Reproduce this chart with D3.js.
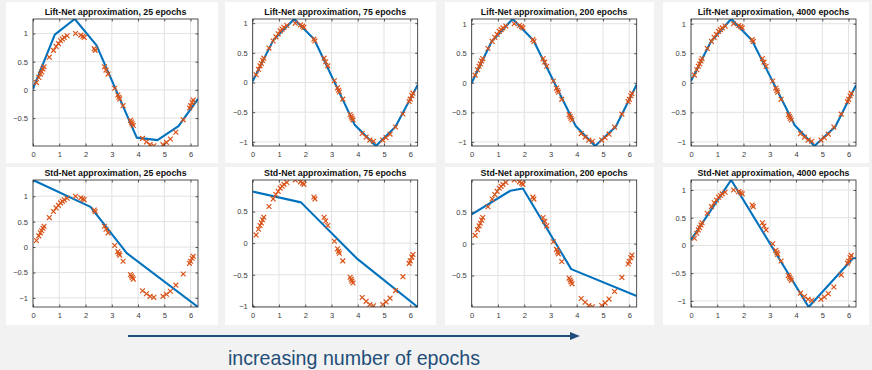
<!DOCTYPE html>
<html>
<head>
<meta charset="utf-8">
<script src="https://cdn.jsdelivr.net/npm/d3@7"></script>
<style>
  body { margin: 0; background: #f2f2f2; }
  svg { display: block; }
</style>
</head>
<body>
<div id="chart"></div>
<script>
// training samples (same in every panel)
const sampleX = [0.13, 0.22, 0.28, 0.33, 0.38, 0.42, 0.62, 0.78, 0.88, 0.97, 1.05, 1.12, 1.19, 1.30,
  1.62, 1.82, 1.90, 1.95, 2.33, 2.37, 2.72, 2.78, 2.86, 3.11, 3.23, 3.27, 3.30, 3.43, 3.71, 3.75,
  3.78, 3.82, 4.17, 4.32, 4.46, 4.60, 4.95, 5.08, 5.23, 5.44, 5.72, 5.96, 6.00, 6.06, 6.10];
const sampleY = [0.13, 0.22, 0.28, 0.32, 0.37, 0.41, 0.58, 0.70, 0.77, 0.82, 0.87, 0.90, 0.93, 0.96,
  1.00, 0.97, 0.95, 0.93, 0.73, 0.70, 0.41, 0.35, 0.28, 0.03, -0.09, -0.13, -0.16, -0.28, -0.54, -0.57,
  -0.60, -0.63, -0.86, -0.92, -0.97, -0.99, -0.97, -0.93, -0.87, -0.75, -0.53, -0.32, -0.28, -0.22, -0.18];

const epochs = [25, 75, 200, 4000];

// network outputs, [x, y] breakpoints
const liftNet25 = [[0, 0.02], [0.83, 0.98], [1.59, 1.256], [2.42, 0.79], [3.95, -0.845], [4.74, -0.89], [5.54, -0.64], [6.283, -0.16]];
const liftNet75 = [[0, 0.02], [0.78, 0.71], [1.58, 1.07], [2.34, 0.73], [3.88, -0.71], [4.69, -1.07], [5.43, -0.75], [6.283, -0.04]];
const liftNet200 = [[0, 0.0], [0.76, 0.70], [1.56, 1.08], [2.35, 0.72], [3.96, -0.73], [4.70, -1.07], [5.49, -0.74], [6.283, -0.03]];
const liftNet4000 = [[0, 0.03], [0.76, 0.70], [1.53, 1.08], [2.32, 0.72], [3.95, -0.72], [4.70, -1.07], [5.50, -0.74], [6.283, -0.04]];

const stdNet25 = [[0, 1.32], [2.19, 0.79], [3.57, -0.12], [6.283, -1.18]];
const stdNet75 = [[0, 0.816], [1.84, 0.645], [3.96, -0.24], [6.283, -1.01]];
const stdNet200 = [[0, 0.46], [1.47, 0.83], [1.95, 0.865], [3.79, -0.40], [6.283, -0.82]];
const stdNet4000 = [[0, 0.10], [1.53, 1.18], [4.48, -1.11], [6.17, -0.23], [6.283, -0.23]];

// y limits (axis tight)
const liftYLim = [[-0.994, 1.256], [-1.07, 1.07], [-1.07, 1.08], [-1.07, 1.08]];
const stdYLim = [[-1.18, 1.32], [-1.01, 0.999], [-0.994, 0.999], [-1.11, 1.18]];

const xTicks = [0, 1, 2, 3, 4, 5, 6];
const yTicks = [-1, -0.5, 0, 0.5, 1];

const width = 872, height = 370;
const cardX = [6, 225, 445, 663];
const cardW = [212, 211, 209, 206];
const cardY = [2, 167];
const cardH = [161, 158];
const axX = [33, 252.7, 471.7, 691];
const axY = [19, 180];
const axW = 165, axH = 127;

const blue = '#0072bd';
const orange = '#d95319';
const ink = '#262626';

const svg = d3.select('#chart')
  .append('svg')
  .attr('width', width)
  .attr('height', height)
  .style('font-family', 'Liberation Sans, Arial, sans-serif');

svg.append('rect').attr('width', width).attr('height', height).attr('fill', '#f2f2f2');

const rows = [
  { name: 'Lift-Net', nets: [liftNet25, liftNet75, liftNet200, liftNet4000], ylim: liftYLim },
  { name: 'Std-Net', nets: [stdNet25, stdNet75, stdNet200, stdNet4000], ylim: stdYLim }
];

const samples = sampleX.map((x, i) => [x, sampleY[i]]);

rows.forEach((row, r) => {
  epochs.forEach((ep, c) => {
    // card
    svg.append('rect')
      .attr('x', cardX[c]).attr('y', cardY[r])
      .attr('width', cardW[c]).attr('height', cardH[r])
      .attr('fill', '#fff');

    const g = svg.append('g').attr('transform', `translate(${axX[c]},${axY[r]})`);
    const x = d3.scaleLinear().domain([0, 2 * Math.PI]).range([0, axW]);
    const y = d3.scaleLinear().domain(row.ylim[c]).range([axH, 0]);
    const yt = yTicks.filter(v => v >= row.ylim[c][0] && v <= row.ylim[c][1]);

    // grid
    g.append('g').selectAll('line').data(xTicks).join('line')
      .attr('x1', d => x(d)).attr('x2', d => x(d))
      .attr('y1', 0).attr('y2', axH)
      .attr('stroke', '#e2e2e2').attr('stroke-width', 1);
    g.append('g').selectAll('line').data(yt).join('line')
      .attr('x1', 0).attr('x2', axW)
      .attr('y1', d => y(d)).attr('y2', d => y(d))
      .attr('stroke', '#e2e2e2').attr('stroke-width', 1);

    const clipId = `clip-${r}-${c}`;
    g.append('clipPath').attr('id', clipId)
      .append('rect').attr('width', axW).attr('height', axH);

    const plot = g.append('g').attr('clip-path', `url(#${clipId})`);

    plot.append('path')
      .datum(row.nets[c])
      .attr('d', d3.line().x(d => x(d[0])).y(d => y(d[1])))
      .attr('fill', 'none')
      .attr('stroke', blue)
      .attr('stroke-width', 2.1)
      .attr('stroke-linejoin', 'round');

    const s = 2.4;
    plot.append('g').selectAll('path').data(samples).join('path')
      .attr('transform', d => `translate(${x(d[0])},${y(d[1])})`)
      .attr('d', `M${-s},${-s}L${s},${s}M${-s},${s}L${s},${-s}`)
      .attr('stroke', orange)
      .attr('stroke-width', 1.2)
      .attr('fill', 'none');

    // axes
    const styleAxis = sel => {
      sel.select('.domain').remove();
      sel.selectAll('.tick line').attr('stroke', ink).attr('stroke-width', 0.75);
      sel.selectAll('.tick text').attr('fill', '#3a3a3a').style('font-size', '7.5px')
        .style('font-family', 'Liberation Sans, Arial, sans-serif');
    };
    g.append('g').attr('transform', `translate(0,${axH})`)
      .call(d3.axisBottom(x).tickValues(xTicks).tickFormat(d3.format('d')).tickSize(-2.5).tickPadding(6))
      .call(styleAxis);
    g.append('g')
      .call(d3.axisTop(x).tickValues(xTicks).tickFormat('').tickSize(-2.5))
      .call(styleAxis);
    g.append('g')
      .call(d3.axisLeft(y).tickValues(yt).tickFormat(d => d3.format('')(d)).tickSize(-2.5).tickPadding(5))
      .call(styleAxis);
    g.append('g').attr('transform', `translate(${axW},0)`)
      .call(d3.axisRight(y).tickValues(yt).tickFormat('').tickSize(-2.5))
      .call(styleAxis);

    g.append('rect')
      .attr('width', axW).attr('height', axH)
      .attr('fill', 'none')
      .attr('stroke', ink)
      .attr('stroke-width', 0.8);

    g.append('text')
      .attr('x', axW / 2).attr('y', -4)
      .attr('text-anchor', 'middle')
      .attr('font-weight', 'bold')
      .attr('font-size', '8.8px')
      .attr('fill', '#111')
      .text(`${row.name} approximation, ${ep} epochs`);
  });
});

// arrow + caption
const arrowColor = '#1f4e79';
svg.append('line')
  .attr('x1', 128).attr('x2', 572)
  .attr('y1', 336).attr('y2', 336)
  .attr('stroke', arrowColor).attr('stroke-width', 2);
svg.append('path')
  .attr('d', 'M570,332L580,336L570,340Z')
  .attr('fill', arrowColor);
svg.append('text')
  .attr('x', 354).attr('y', 365)
  .attr('text-anchor', 'middle')
  .attr('font-size', '21px')
  .attr('textLength', 252)
  .attr('lengthAdjust', 'spacingAndGlyphs')
  .attr('fill', arrowColor)
  .text('increasing number of epochs');
</script>
</body>
</html>
